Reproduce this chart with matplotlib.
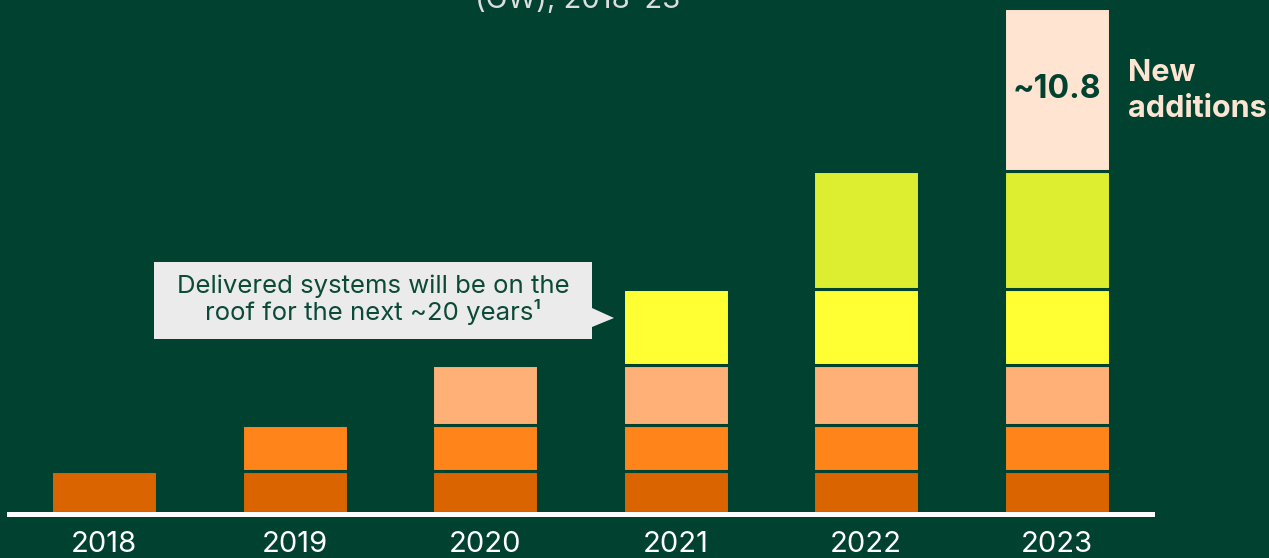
import numpy as np
import matplotlib.pyplot as plt
from matplotlib.patches import Polygon

years = ['2018', '2019', '2020', '2021', '2022', '2023']
additions = [2.8, 3.0, 4.0, 5.0, 7.8, 10.8]      # GW added per year (cohort)
colors = ['#D96400', '#FF8419', '#FFB077', '#FFFF33', '#DDEE30', '#FFE5D1']
bg = '#00412F'
dark = '#00412F'

plt.rcParams['font.family'] = ['Inter', 'DejaVu Sans']

W, H = 1269, 558
fig = plt.figure(figsize=(W / 100, H / 100), dpi=100, facecolor=bg)
ax = fig.add_axes([9 / W, 38 / H, 1143 / W, 520 / H])
ax.set_facecolor(bg)

x = np.arange(len(years))
bottom = 0.0
for k, val in enumerate(additions):
    xs = x[k:]
    ax.bar(xs, [val] * len(xs), bottom=bottom, width=0.556, color=colors[k],
           edgecolor=bg, linewidth=2.2, zorder=2)
    bottom += val

# baseline
ax.axhline(-0.1, color='white', linewidth=3.6, zorder=3, clip_on=False)

ax.set_xlim(-0.5, 5.5)
ax.set_ylim(-0.464, 33.9)
for s in ax.spines.values():
    s.set_visible(False)
ax.set_yticks([])
ax.set_xticks(x)
ax.set_xticklabels(years, color='white', fontsize=21)
ax.tick_params(axis='x', length=0, pad=8)

# label inside newest segment
top_bottom = sum(additions[:-1])
ax.text(x[-1], top_bottom + additions[-1] / 2, '~10.8', ha='center', va='center',
        fontsize=23, fontweight='bold', color=dark, zorder=4)
fig.text(1128 / W, 1 - 91 / H, 'New\nadditions', ha='left', va='center',
         fontsize=22, fontweight='bold', color='#FFE5D1', linespacing=1.35)

# title (cut off at top)
fig.text(578 / W, 1 - 8 / H, '(GW), 2018–23', ha='center', va='baseline',
         fontsize=21, color='#DDDDDD')

# callout box with arrow
px = [(154, 262), (592, 262), (592, 308), (614, 318), (592, 327), (592, 339), (154, 339)]
pts = [(a / W, 1 - b / H) for a, b in px]
fig.add_artist(Polygon(pts, closed=True, transform=fig.transFigure,
                       facecolor='#EBEBEB', edgecolor='none', zorder=5))
fig.text(373 / W, 1 - 300 / H, 'Delivered systems will be on the\nroof for the next ~20 years¹',
         ha='center', va='center', fontsize=18.5, color='#0B4A37', linespacing=1.05, zorder=6)

fig.savefig('out.png', dpi=100, facecolor=bg)
